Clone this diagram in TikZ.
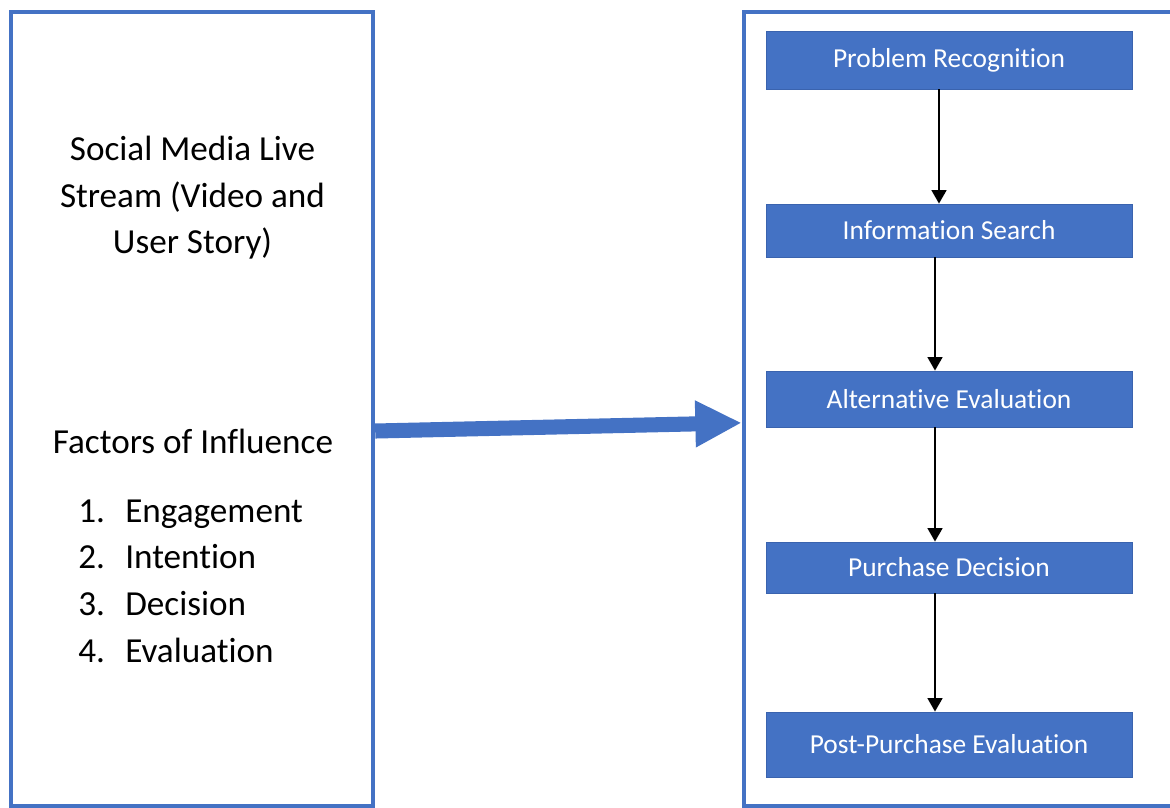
\documentclass[tikz,border=0pt]{standalone}
\usepackage{fontspec}
\setmainfont{Carlito}[Ligatures=NoCommon]
\usetikzlibrary{arrows.meta}
\definecolor{officeblue}{HTML}{4472C4}
\definecolor{officeedge}{HTML}{3A63AE}
\begin{document}
\begin{tikzpicture}[x=0.025cm, y=-0.025cm,
    panel/.style={draw=officeblue, line width=2.8pt, inner sep=0pt},
    stage/.style={fill=officeblue, draw=officeedge, line width=0.6pt, text=white, minimum width=9.15cm, inner sep=0pt, font=\fontsize{19.5}{23}\selectfont},
    flow/.style={line width=1.3pt, -{Triangle[length=9.5pt, width=10.5pt]}},
    bodytext/.style={inner sep=0pt, font=\fontsize{25}{33}\selectfont}]
    \useasboundingbox (0,0) rectangle (1170,808);
    \clip (0,0) rectangle (1170,808);

    % the two frames
    \node[panel, minimum width=9.06cm, minimum height=19.86cm] (stream) at (192,409) {};
    \node[panel, minimum width=11.15cm, minimum height=19.84cm] (journey) at (966.75,409.25) {};

    % left panel texts
    \node[bodytext, align=center] (source) at (192.5,198) {Social Media Live\\Stream (Video and\\User Story)};
    \node[bodytext, anchor=base] (factors) at (193,453) {Factors of Influence};
    \node[bodytext, anchor=base west] (num1) at (78,522) {1.};
    \node[bodytext, anchor=base west] (num2) at (78,568) {2.};
    \node[bodytext, anchor=base west] (num3) at (78,615) {3.};
    \node[bodytext, anchor=base west] (num4) at (78,662) {4.};
    \node[bodytext, anchor=base west] (engage) at (125,522) {Engagement};
    \node[bodytext, anchor=base west] (intent) at (125,568) {Intention};
    \node[bodytext, anchor=base west] (decide) at (125,615) {Decision};
    \node[bodytext, anchor=base west] (evaluate) at (125,662) {Evaluation};

    % decision stages
    \node[stage, minimum height=1.45cm] (problem) at (949,60) {Problem Recognition};
    \node[stage, minimum height=1.325cm] (search) at (949,230.5) {Information Search};
    \node[stage, minimum height=1.4cm] (alternative) at (949,399) {Alternative Evaluation};
    \node[stage, minimum height=1.275cm] (purchase) at (949,567.5) {Purchase Decision};
    \node[stage, minimum height=1.625cm] (post) at (949,744.5) {Post-Purchase Evaluation};

    \draw[flow] ([xshift=-0.25cm]problem.south) -- ([xshift=-0.25cm]search.north);
    \draw[flow] ([xshift=-0.35cm]search.south) -- ([xshift=-0.35cm]alternative.north);
    \draw[flow] ([xshift=-0.35cm]alternative.south) -- ([xshift=-0.35cm]purchase.north);
    \draw[flow] ([xshift=-0.35cm]purchase.south) -- ([xshift=-0.35cm]post.north);

    % influence arrow
    \draw[officeblue, line width=10.7pt, -{Triangle[length=33pt, width=31pt]}] ([yshift=-0.55cm]stream.east) -- ([yshift=-0.34cm]journey.west);
\end{tikzpicture}
\end{document}
